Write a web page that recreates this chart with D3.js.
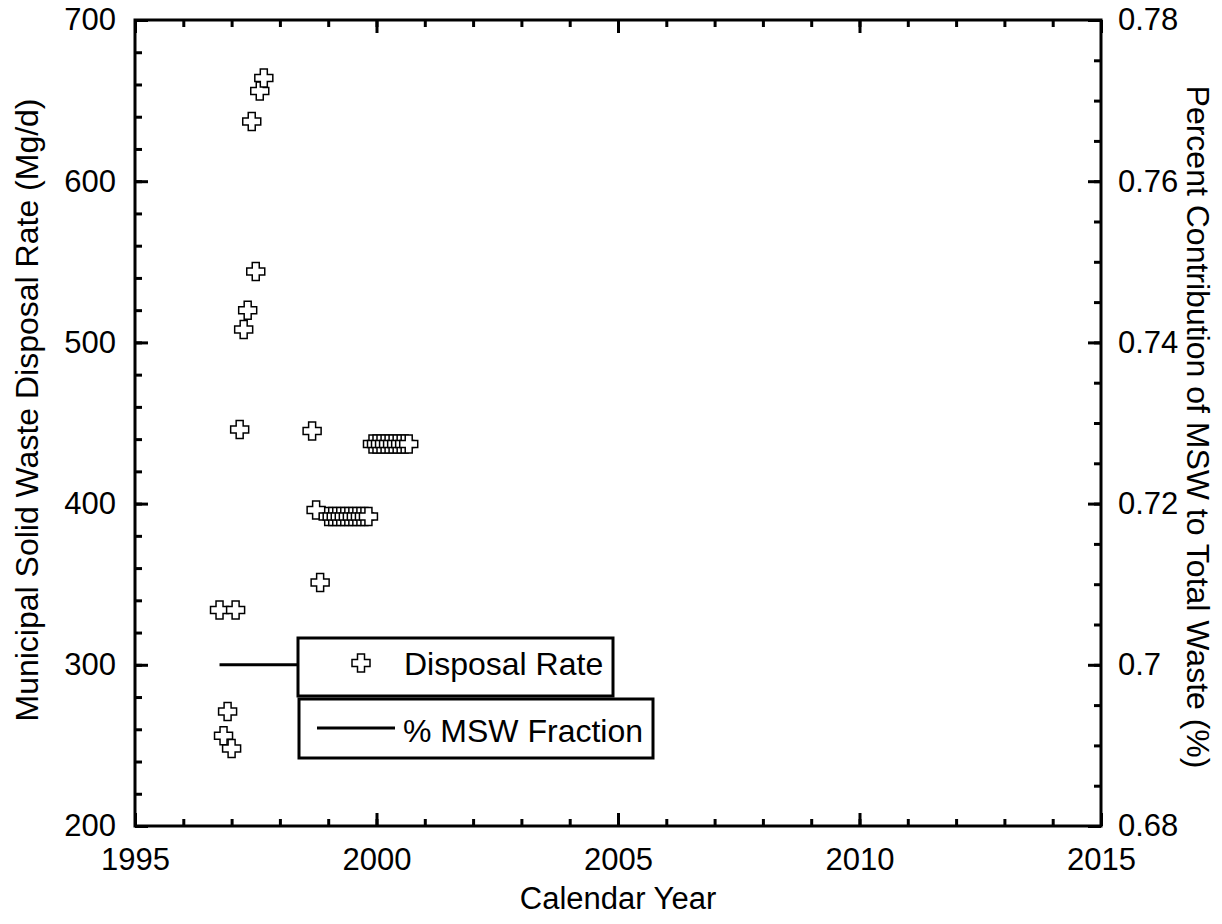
<!DOCTYPE html>
<html>
<head>
<meta charset="utf-8">
<script src="https://cdn.jsdelivr.net/npm/d3@7"></script>
<style>
  body { margin: 0; background: #fff; }
  text { font-family: "Liberation Sans", Arial, sans-serif; fill: #000; }
</style>
</head>
<body>
<div id="chart"></div>
<script>
// monthly disposal rate, decimal calendar year
const rateYears = [
    1996.75, 1996.833, 1996.917, 1997.0, 1997.083, 1997.167,
    1997.25, 1997.333, 1997.417, 1997.5, 1997.583, 1997.667,
    1998.667, 1998.75, 1998.833,
    1999.0, 1999.083, 1999.167, 1999.25, 1999.333, 1999.417,
    1999.5, 1999.583, 1999.667, 1999.75, 1999.833,
    1999.917, 2000.0, 2000.083, 2000.167, 2000.25, 2000.333,
    2000.417, 2000.5, 2000.583, 2000.667
];
const rateValues = [
    334, 256, 271, 248, 334, 446,
    508, 520, 637, 544, 656, 664,
    445, 396, 351,
    392, 392, 392, 392, 392, 392,
    392, 392, 392, 392, 392,
    437, 437, 437, 437, 437, 437,
    437, 437, 437, 437
];
// % MSW fraction (right axis)
const fracYears = [1996.75, 2000.667];
const fracValues = [0.70, 0.70];

const xTicks = [1995, 2000, 2005, 2010, 2015];
const yLeftTicks = [200, 300, 400, 500, 600, 700];
const yRightTicks = [0.68, 0.70, 0.72, 0.74, 0.76, 0.78];
const yRightLabels = ["0.68", "0.7", "0.72", "0.74", "0.76", "0.78"];

const width = 1222;
const height = 924;
const plot = { left: 135, right: 1101, top: 20, bottom: 826 };

const svg = d3.select('#chart')
    .append('svg')
    .attr('width', width)
    .attr('height', height);

const x = d3.scaleLinear().domain([1995, 2015]).range([plot.left, plot.right]);
const yL = d3.scaleLinear().domain([200, 700]).range([plot.bottom, plot.top]);
const yR = d3.scaleLinear().domain([0.68, 0.78]).range([plot.bottom, plot.top]);

const minorX = d3.range(1995, 2016, 1);
const minorYL = d3.range(200, 701, 20);
const minorYR = d3.range(0, 21).map(i => 0.68 + i * 0.005);

// ticks (pointing inward)
function ticks(g, axis) {
    g.call(axis);
    g.select('.domain').remove();
    g.selectAll('line').attr('stroke', '#000').attr('stroke-width', 3);
    g.selectAll('text').attr('font-size', '31px').attr('fill', '#000');
}

// bottom
svg.append('g').attr('transform', `translate(0,${plot.bottom})`)
    .call(ticks, d3.axisBottom(x).tickValues(minorX).tickSize(-7).tickFormat(''));
svg.append('g').attr('transform', `translate(0,${plot.bottom})`)
    .call(ticks, d3.axisBottom(x).tickValues(xTicks).tickSize(-13).tickPadding(22).tickFormat(d3.format('d')));
// top
svg.append('g').attr('transform', `translate(0,${plot.top})`)
    .call(ticks, d3.axisTop(x).tickValues(minorX).tickSize(-7).tickFormat(''));
svg.append('g').attr('transform', `translate(0,${plot.top})`)
    .call(ticks, d3.axisTop(x).tickValues(xTicks).tickSize(-13).tickFormat(''));
// left
svg.append('g').attr('transform', `translate(${plot.left},0)`)
    .call(ticks, d3.axisLeft(yL).tickValues(minorYL).tickSize(-7).tickFormat(''));
svg.append('g').attr('transform', `translate(${plot.left},0)`)
    .call(ticks, d3.axisLeft(yL).tickValues(yLeftTicks).tickSize(-13).tickPadding(19).tickFormat(d3.format('d')));
// right
svg.append('g').attr('transform', `translate(${plot.right},0)`)
    .call(ticks, d3.axisRight(yR).tickValues(minorYR).tickSize(-7).tickFormat(''));
svg.append('g').attr('transform', `translate(${plot.right},0)`)
    .call(ticks, d3.axisRight(yR).tickValues(yRightTicks).tickSize(-13).tickPadding(17)
        .tickFormat((d, i) => yRightLabels[i]));

// frame
svg.append('rect')
    .attr('x', plot.left).attr('y', plot.top)
    .attr('width', plot.right - plot.left).attr('height', plot.bottom - plot.top)
    .attr('fill', 'none').attr('stroke', '#000').attr('stroke-width', 3);

// plus marker outline
const plus = (s, w) => `M${-w},${-s}H${w}V${-w}H${s}V${w}H${w}V${s}H${-w}V${w}H${-s}V${-w}H${-w}Z`;

svg.append('g')
    .selectAll('path')
    .data(rateYears)
    .join('path')
    .attr('d', plus(9, 3.5))
    .attr('transform', (d, i) => `translate(${x(d)},${yL(rateValues[i])})`)
    .attr('fill', '#fff')
    .attr('stroke', '#000')
    .attr('stroke-width', 1.5);

// msw fraction line
const line = d3.line().x((d, i) => x(fracYears[i])).y(d => yR(d));
svg.append('path')
    .datum(fracValues)
    .attr('d', line)
    .attr('fill', 'none')
    .attr('stroke', '#000')
    .attr('stroke-width', 3);

// legend
const leg = svg.append('g');
leg.append('rect').attr('x', 298).attr('y', 638).attr('width', 315).attr('height', 58)
    .attr('fill', '#fff').attr('stroke', '#000').attr('stroke-width', 3);
leg.append('path').attr('d', plus(9, 3.5)).attr('transform', 'translate(361,663)')
    .attr('fill', '#fff').attr('stroke', '#000').attr('stroke-width', 1.5);
leg.append('text').attr('x', 404).attr('y', 675).attr('font-size', '32px').text('Disposal Rate');

leg.append('rect').attr('x', 299).attr('y', 699).attr('width', 354).attr('height', 59)
    .attr('fill', '#fff').attr('stroke', '#000').attr('stroke-width', 3);
leg.append('line').attr('x1', 317).attr('x2', 395).attr('y1', 728).attr('y2', 728)
    .attr('stroke', '#000').attr('stroke-width', 3);
leg.append('text').attr('x', 403).attr('y', 742).attr('font-size', '32px').text('% MSW Fraction');

// axis titles
svg.append('text')
    .attr('x', (plot.left + plot.right) / 2).attr('y', 909)
    .attr('text-anchor', 'middle').attr('font-size', '31px')
    .text('Calendar Year');

svg.append('text')
    .attr('transform', 'translate(38,410) rotate(-90)')
    .attr('text-anchor', 'middle').attr('font-size', '32px')
    .text('Municipal Solid Waste Disposal Rate (Mg/d)');

svg.append('text')
    .attr('transform', 'translate(1187,427) rotate(90)')
    .attr('text-anchor', 'middle').attr('font-size', '32px')
    .text('Percent Contribution of MSW to Total Waste (%)');
</script>
</body>
</html>
